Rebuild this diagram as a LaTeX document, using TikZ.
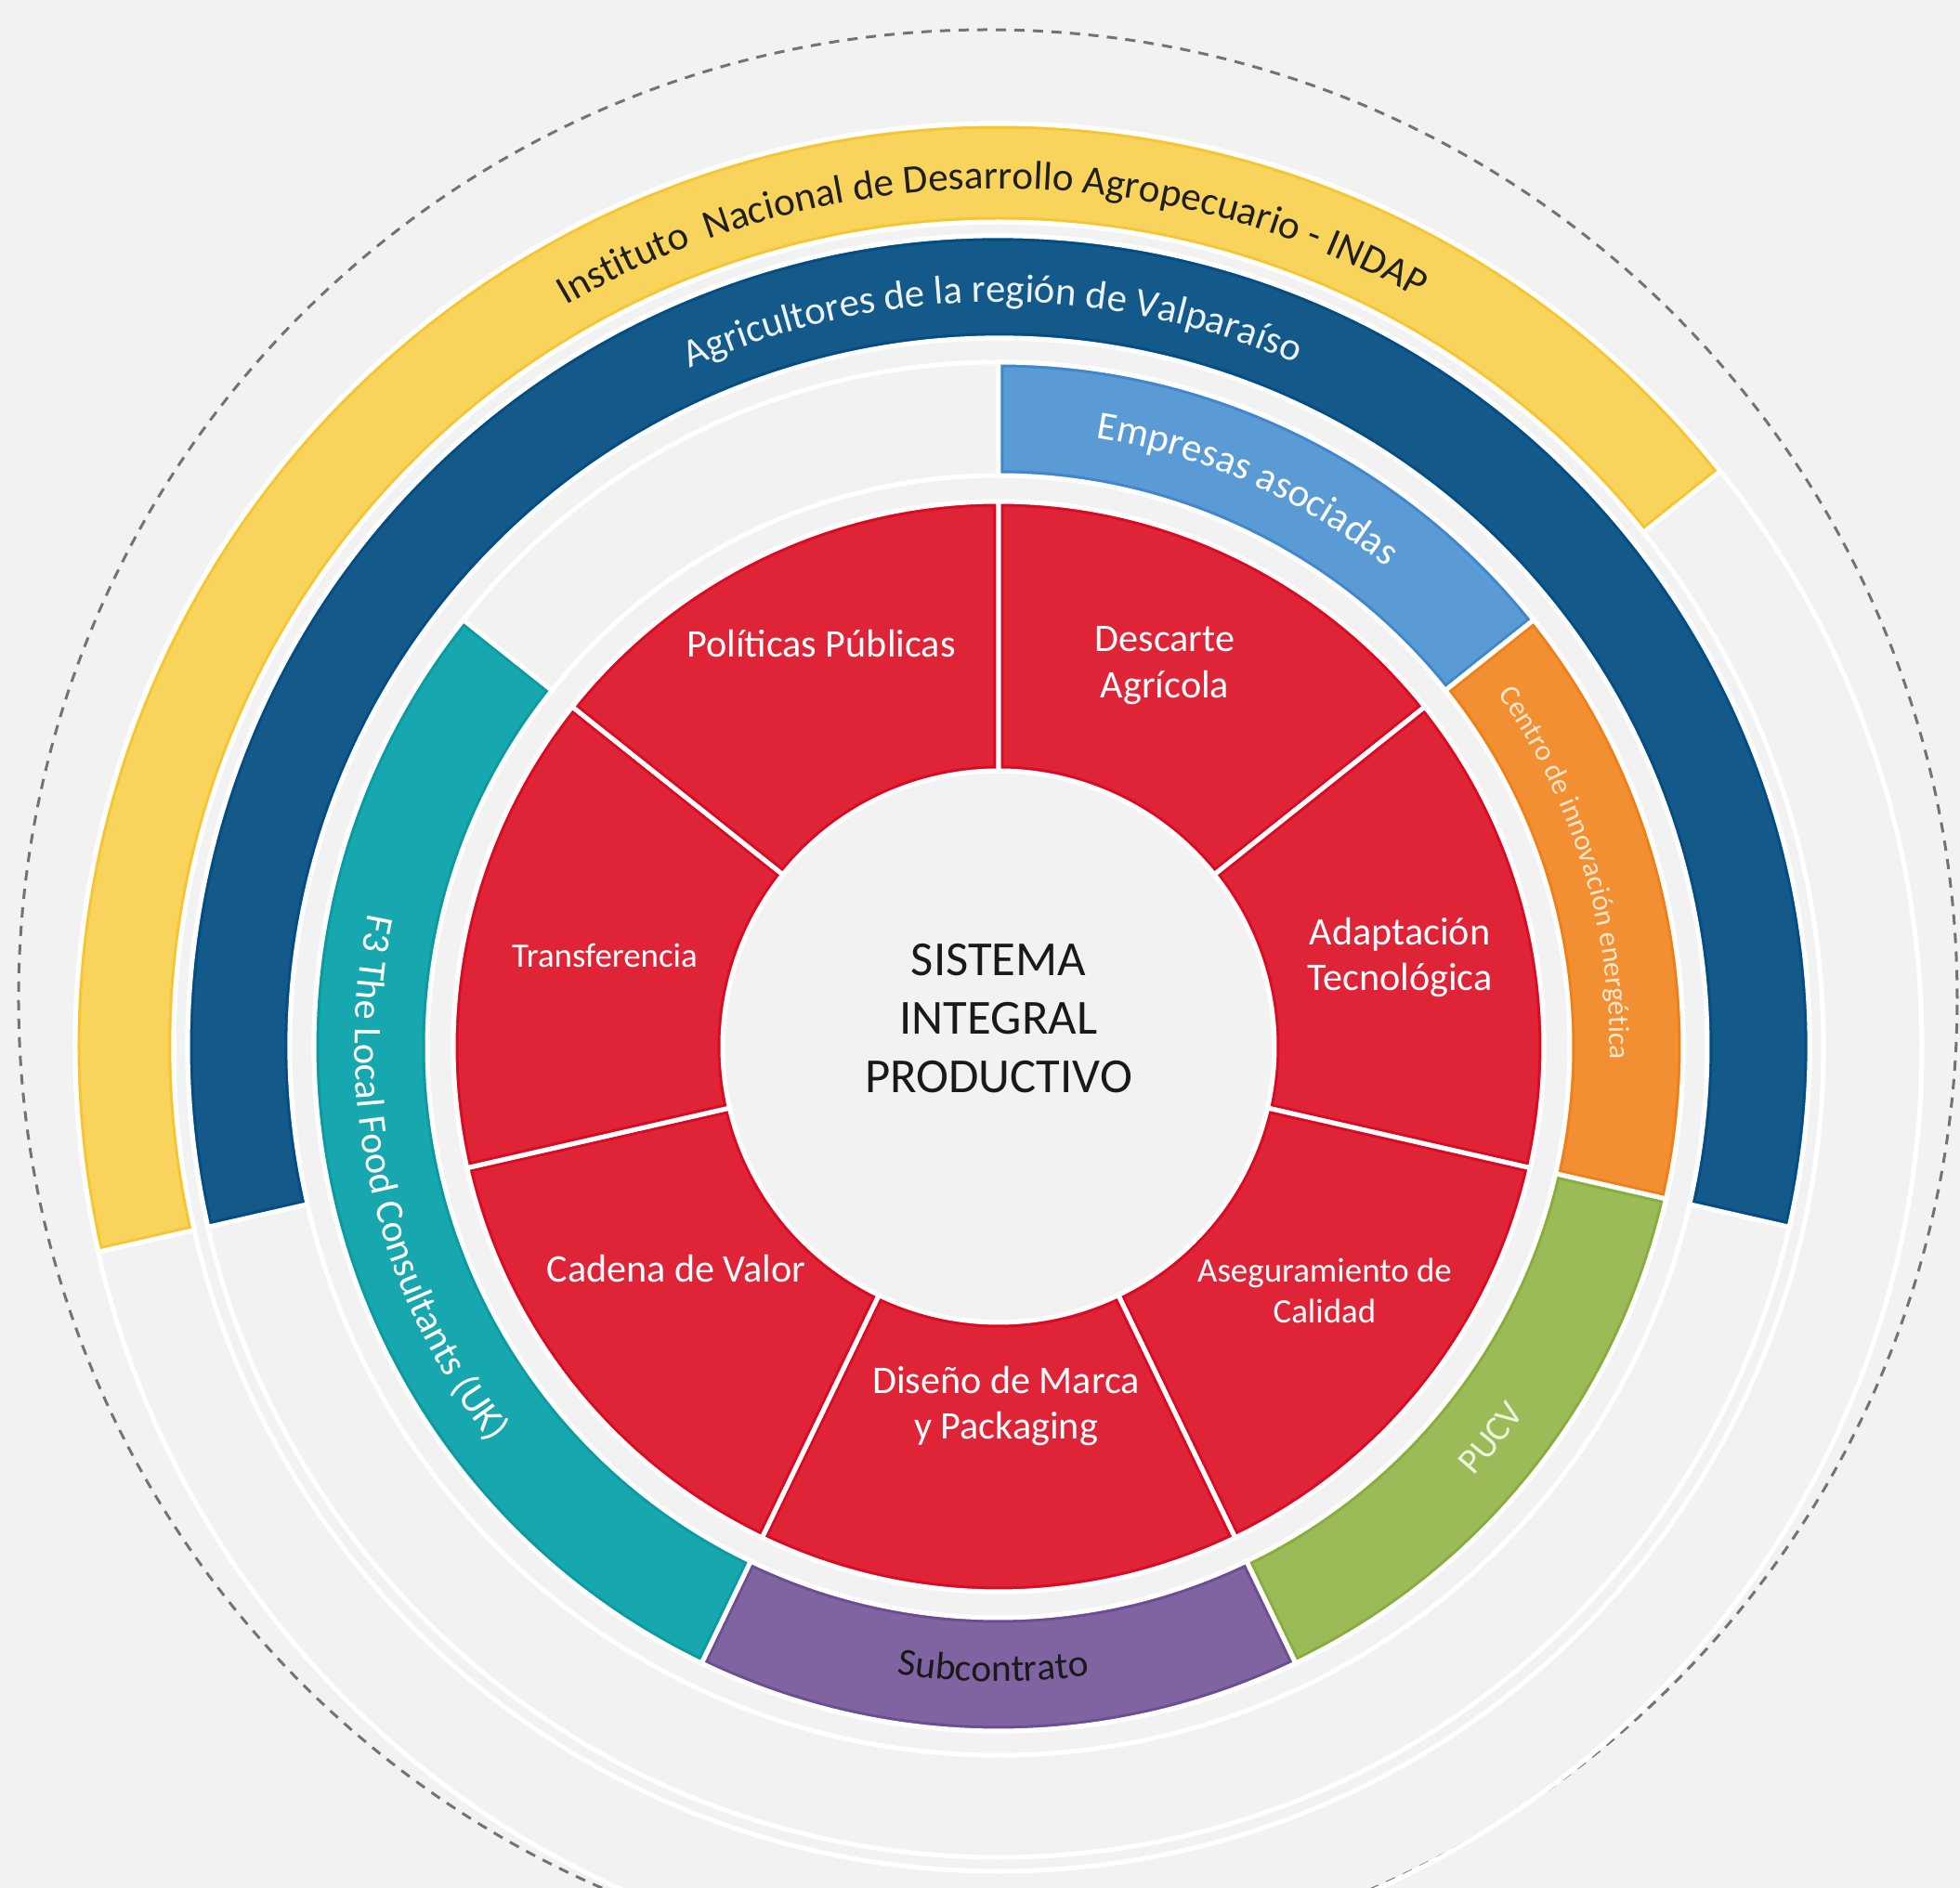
\documentclass[tikz,border=0pt]{standalone}
\usepackage{fontspec}
\setmainfont{Carlito}
\usepackage{tikz}
\usetikzlibrary{decorations.text}

\definecolor{paper}{HTML}{F2F2F2}
\definecolor{coreRed}{HTML}{DF2437}
\definecolor{indapYellow}{HTML}{F9D45C}
\definecolor{farmBlue}{HTML}{135A8A}
\definecolor{firmBlue}{HTML}{5B9BD5}
\definecolor{energyOrange}{HTML}{F18F32}
\definecolor{pucvGreen}{HTML}{9BBB59}
\definecolor{subPurple}{HTML}{8064A2}
\definecolor{localTeal}{HTML}{17A8AF}
% slightly deeper edge tones
\definecolor{coreRedEdge}{HTML}{DA0A22}
\definecolor{indapYellowEdge}{HTML}{F6C532}
\definecolor{farmBlueEdge}{HTML}{044C84}
\definecolor{firmBlueEdge}{HTML}{3F86CE}
\definecolor{energyOrangeEdge}{HTML}{EF7F16}
\definecolor{pucvGreenEdge}{HTML}{88AD3C}
\definecolor{subPurpleEdge}{HTML}{6A4D92}
\definecolor{localTealEdge}{HTML}{0B9AA2}
\definecolor{energyText}{HTML}{FCE6CC}
\definecolor{pucvText}{HTML}{EEF4DE}

% annular sector: start angle, end angle, inner radius, outer radius
\newcommand{\ringpath}[4]{(#1:#3) arc[start angle=#1, end angle=#2, radius=#3]
  -- (#2:#4) arc[start angle=#2, end angle=#1, radius=#4] -- cycle}
% filled sector with a deeper inner edge and a white rim
\newcommand{\ringpart}[5]{%
  \fill[#1] \ringpath{#2}{#3}{#4}{#5};
  \begin{scope}
    \clip \ringpath{#2}{#3}{#4}{#5};
    \draw[#1Edge, line width=1.1mm] \ringpath{#2}{#3}{#4}{#5};
  \end{scope}
  \draw[rim] \ringpath{#2}{#3}{#4}{#5};
}

\begin{document}
\begin{tikzpicture}[
    x=1mm,
    y=1mm,
    rim/.style={draw=white, line width=0.5mm},
    guide/.style={draw=white, line width=0.5mm},
    orbit/.style={draw=black!55, line width=0.3mm, dash pattern=on 1.1mm off 0.9mm},
    hub/.style={text=black!90, align=center, font=\fontsize{15}{17.9}\selectfont},
    sector/.style={text=white, align=center, font=\fontsize{12}{14.2}\selectfont},
    smallsector/.style={text=white, align=center, font=\fontsize{10.5}{12.5}\selectfont},
    arctext/.style 2 args={decorate, decoration={text along path, text align=center,
        text color=#1, text={#2}}}
]

% Ring radii
\def\rHub{29.7}
\def\rRed{58.7}
\def\rMidIn{61.5}
\def\rMidOut{73.7}
\def\rFarmIn{76.3}
\def\rFarmOut{87.3}
\def\rIndapIn{88.8}
\def\rIndapOut{99.4}

% Page
\useasboundingbox (-107.5,-90.6) rectangle (103.5,112.7);
\fill[paper] (-107.5,-90.6) rectangle (103.5,112.7);

% Outer dashed boundary
\draw[orbit] (-1.15,5.15) circle[radius=104.35];

% White guide circles of every ring
\foreach \rad in {\rHub,\rRed,\rMidIn,\rMidOut,\rFarmIn,\rFarmOut,\rIndapIn,\rIndapOut}
    \draw[guide] (0,0) circle[radius=\rad];

% Inner ring: seven red sectors
\foreach \k in {0,...,6}{
    \pgfmathsetmacro\aS{90-\k*360/7}
    \pgfmathsetmacro\aE{90-(\k+1)*360/7}
    \ringpart{coreRed}{\aS}{\aE}{\rHub}{\rRed}
}

% Middle ring: partners
\ringpart{firmBlue}{90}{38.5714}{\rMidIn}{\rMidOut}
\ringpart{energyOrange}{38.5714}{-12.8571}{\rMidIn}{\rMidOut}
\ringpart{pucvGreen}{-12.8571}{-64.2857}{\rMidIn}{\rMidOut}
\ringpart{subPurple}{-64.2857}{-115.7143}{\rMidIn}{\rMidOut}
\ringpart{localTeal}{-115.7143}{-218.5714}{\rMidIn}{\rMidOut}

% Outer rings
\ringpart{farmBlue}{192.8571}{-12.8571}{\rFarmIn}{\rFarmOut}
\ringpart{indapYellow}{192.8571}{38.5714}{\rIndapIn}{\rIndapOut}

% Centre
\node[hub] (hub) at (0,3) {SISTEMA\\INTEGRAL\\PRODUCTIVO};

% Sector labels
\node[sector] (politicas) at (-19.1,43.4) {Políticas Públicas};
\node[sector] (descarte) at (17.9,41.0) {Descarte\\Agrícola};
\node[sector] (adaptacion) at (43.2,9.6) {Adaptación\\Tecnológica};
\node[smallsector] (aseguramiento) at (35.1,-26.3) {Aseguramiento de\\Calidad};
\node[sector] (diseno) at (0.8,-38.7) {Diseño de Marca\\y Packaging};
\node[sector] (cadena) at (-34.7,-23.9) {Cadena de Valor};
\node[smallsector] (transferencia) at (-42.4,9.8) {Transferencia};

% Ring captions, clockwise over the top
\path[arctext={black!88}{|\fontsize{12.3}{14}\selectfont|Instituto {\ }Nacional de Desarrollo Agropecuario - INDAP}]
    (130.5:92.4) arc[start angle=130.5, end angle=50.5, radius=92.4];
\path[arctext={white!93!farmBlue}{|\fontsize{12.2}{14}\selectfont|Agricultores de la región de Valparaíso}]
    (130.5:80.2) arc[start angle=130.5, end angle=50.5, radius=80.2];
\path[arctext={white}{|\fontsize{12.2}{14}\selectfont|Empresas asociadas}]
    (96:66.4) arc[start angle=96, end angle=36, radius=66.4];
\path[arctext={energyText}{|\fontsize{9}{11}\selectfont|Centro de innovación energética}]
    (47:65.8) arc[start angle=47, end angle=-13, radius=65.8];

% Ring captions, counter-clockwise underneath
\path[arctext={pucvText}{|\fontsize{11}{13}\selectfont|PUCV}]
    (-68.5:69.0) arc[start angle=-68.5, end angle=-8.5, radius=69.0];
\path[arctext={black!90}{|\fontsize{11.8}{14}\selectfont|Subcontrato}]
    (-120.5:68.4) arc[start angle=-120.5, end angle=-60.5, radius=68.4];
\path[arctext={white}{|\fontsize{12}{14}\selectfont|F3 The Local Food Consultants (UK)}]
    (153:69.3) arc[start angle=153, end angle=233, radius=69.3];

\end{tikzpicture}
\end{document}
